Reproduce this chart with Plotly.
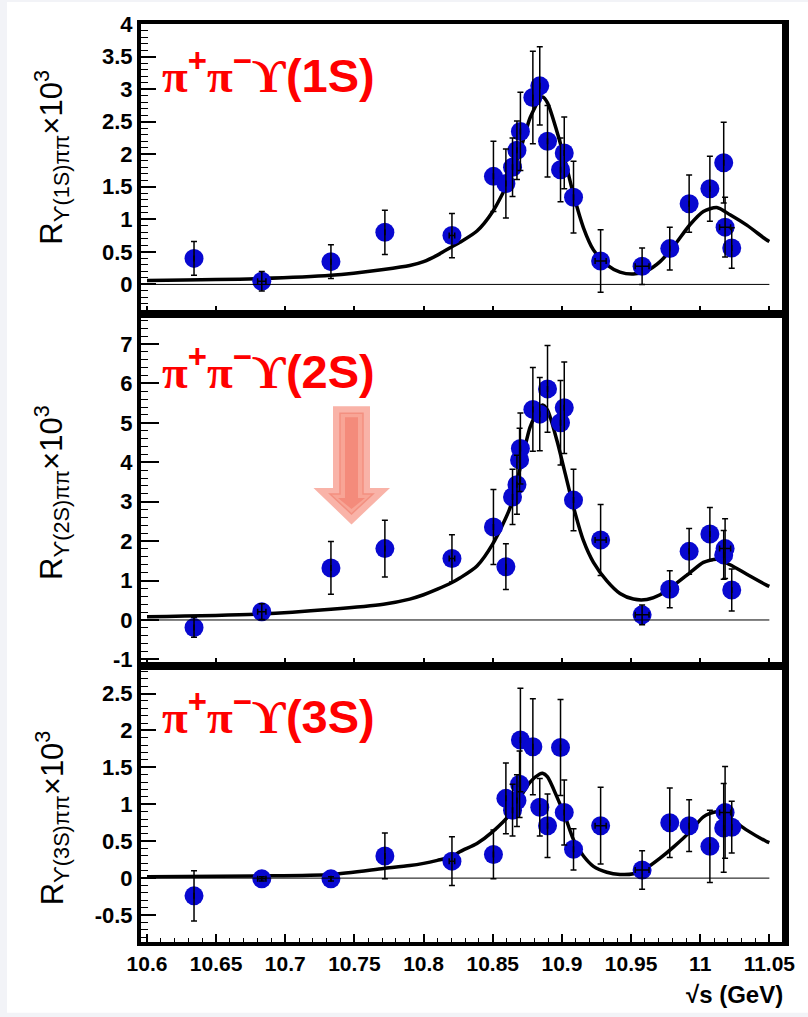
import plotly.graph_objects as go
from plotly.subplots import make_subplots

# ---------------- data ----------------
energies = [10.634, 10.683, 10.733, 10.772, 10.8205, 10.8505, 10.8595, 10.8643, 10.8675,
            10.8694, 10.870, 10.879, 10.884, 10.8896, 10.899, 10.9017, 10.9084, 10.928,
            10.958, 10.978, 10.992, 11.007, 11.017, 11.018, 11.0228]
energy_err = [0, 0.003, 0, 0, 0.002, 0, 0, 0, 0, 0, 0, 0, 0, 0, 0, 0, 0, 0.004,
              0.005, 0, 0, 0, 0, 0.004, 0]

r1s = [0.40, 0.05, 0.35, 0.80, 0.75, 1.66, 1.55, 1.80, 2.06, None, 2.35, 2.87, 3.05, 2.20,
       1.76, 2.02, 1.34, 0.36, 0.28, 0.55, 1.24, 1.47, 1.87, 0.88, 0.56]
r1s_err = [0.26, 0.15, 0.26, 0.34, 0.34, 0.54, 0.53, 0.45, 0.45, None, 0.60, 0.71, 0.60, 0.55,
           0.49, 0.55, 0.55, 0.48, 0.28, 0.33, 0.44, 0.50, 0.62, 0.46, 0.31]

r2s = [-0.19, 0.21, 1.32, 1.81, 1.56, 2.36, 1.35, 3.12, 3.43, 4.06, 4.35, 5.34, 5.22, 5.86,
       5.00, 5.38, 3.04, 2.03, 0.13, 0.78, 1.74, 2.18, 1.65, 1.81, 0.76]
r2s_err = [0.25, 0.20, 0.67, 0.72, 0.60, 0.95, 0.58, 0.70, 0.75, 0.80, 0.90, 1.06, 0.93, 1.10,
           1.07, 1.16, 0.78, 0.90, 0.25, 0.47, 0.58, 0.67, 0.62, 0.76, 0.53]

r3s = [-0.24, -0.01, -0.01, 0.30, 0.23, 0.32, 1.08, 0.92, 1.05, 1.27, 1.87, 1.78, 0.96, 0.71,
       1.77, 0.89, 0.39, 0.71, 0.11, 0.75, 0.71, 0.43, 0.68, 0.89, 0.69]
r3s_err = [0.34, 0.03, 0.03, 0.31, 0.33, 0.33, 0.48, 0.35, 0.35, 0.45, 0.70, 0.65, 0.39, 0.43,
           0.65, 0.44, 0.28, 0.52, 0.26, 0.47, 0.35, 0.49, 0.60, 0.62, 0.35]

fit_energies = [10.600, 10.682, 10.733, 10.771, 10.790, 10.800, 10.810, 10.8205, 10.8265,
                10.8386, 10.850, 10.8627, 10.870, 10.877, 10.884, 10.886, 10.8896, 10.8964,
                10.9024, 10.9084, 10.9156, 10.9228, 10.9325, 10.942, 10.9517, 10.9614, 10.971,
                10.9806, 10.9927, 11.0023, 11.012, 11.0216, 11.0337, 11.0476, 11.050]
fit1 = [0.06, 0.09, 0.14, 0.23, 0.29, 0.35, 0.45, 0.58, 0.65, 0.82, 1.12, 1.64, 2.07, 2.56,
        2.85, 2.88, 2.79, 2.35, 1.89, 1.38, 0.87, 0.53, 0.30, 0.19, 0.16, 0.21, 0.35, 0.58,
        0.92, 1.12, 1.18, 1.07, 0.91, 0.69, 0.66]
fit2 = [0.08, 0.15, 0.27, 0.40, 0.53, 0.64, 0.78, 0.95, 1.07, 1.37, 1.93, 2.86, 3.88, 4.89,
        5.40, 5.45, 5.32, 4.55, 3.71, 2.86, 2.01, 1.46, 0.99, 0.67, 0.53, 0.52, 0.64, 0.87,
        1.20, 1.46, 1.54, 1.40, 1.16, 0.89, 0.85]
fit3 = [0.02, 0.03, 0.05, 0.13, 0.17, 0.20, 0.24, 0.29, 0.36, 0.47, 0.63, 0.87, 1.10, 1.30,
        1.41, 1.42, 1.37, 1.10, 0.83, 0.52, 0.30, 0.16, 0.08, 0.05, 0.06, 0.14, 0.27, 0.42,
        0.63, 0.83, 0.90, 0.81, 0.65, 0.50, 0.48]

x_tickvals = [10.6, 10.65, 10.7, 10.75, 10.8, 10.85, 10.9, 10.95, 11.0, 11.05]
x_ticktext = ["10.6", "10.65", "10.7", "10.75", "10.8", "10.85", "10.9", "10.95", "11", "11.05"]
y1_tickvals = [0, 0.5, 1, 1.5, 2, 2.5, 3, 3.5, 4]
y1_ticktext = ["0", "0.5", "1", "1.5", "2", "2.5", "3", "3.5", "4"]
y2_tickvals = [-1, 0, 1, 2, 3, 4, 5, 6, 7]
y2_ticktext = ["-1", "0", "1", "2", "3", "4", "5", "6", "7"]
y3_tickvals = [-0.5, 0, 0.5, 1, 1.5, 2, 2.5]
y3_ticktext = ["-0.5", "0", "0.5", "1", "1.5", "2", "2.5"]

channel_labels = ["1S", "2S", "3S"]

# ---------------- figure ----------------
W, H = 808, 1017
ML, MR, MT, MB = 141, 23, 22, 75
PW, PH = W - ML - MR, H - MT - MB


def paper(px, py):
    return (px - ML) / PW, (H - MB - py) / PH


fig = make_subplots(rows=3, cols=1, shared_xaxes=True, vertical_spacing=0)

panels = [
    (r1s, r1s_err, fit1),
    (r2s, r2s_err, fit2),
    (r3s, r3s_err, fit3),
]
for i, (vals, errs, fit) in enumerate(panels, start=1):
    fig.add_trace(go.Scatter(x=fit_energies, y=fit, mode="lines",
                             line=dict(color="black", width=3.5, shape="spline", smoothing=0.7),
                             showlegend=False, hoverinfo="skip"), row=i, col=1)
    fig.add_trace(go.Scatter(x=energies, y=vals, mode="markers",
                             marker=dict(color="#0808d0", size=19, line=dict(width=0)),
                             showlegend=False), row=i, col=1)
    fig.add_trace(go.Scatter(x=energies, y=vals, mode="markers",
                             marker=dict(color="rgba(0,0,0,0)", size=2),
                             error_y=dict(type="data", array=errs, visible=True,
                                          color="black", thickness=1.5, width=3),
                             error_x=dict(type="data", array=energy_err, visible=True,
                                          color="black", thickness=1.5, width=3),
                             showlegend=False, hoverinfo="skip"), row=i, col=1)

# domains
b1 = (H - MB - 313) / PH
b2 = (H - MB - 665) / PH
domains = {1: [b1, 1.0], 2: [b2, b1], 3: [0.0, b2]}
yranges = {1: [-0.46, 4.0], 2: [-1.157, 7.75], 3: [-0.865, 2.878]}
ytv = {1: (y1_tickvals, y1_ticktext, 0.1, 15),
       2: (y2_tickvals, y2_ticktext, 0.2, 18),
       3: (y3_tickvals, y3_ticktext, 0.1, 15)}

tickfont = dict(family="Liberation Sans", size=22, color="black", weight="bold")
xrange = [10.6 - 6 / 1383.0, 10.6 + (785 - 147) / 1383.0]

for i in (1, 2, 3):
    tv, tt, mdt, tl = ytv[i]
    fig.update_yaxes(row=i, col=1, domain=domains[i], range=yranges[i],
                     tickvals=tv, ticktext=tt, ticks="inside", ticklen=tl, tickwidth=1.5,
                     tickcolor="black",
                     minor=dict(ticks="inside", dtick=mdt, tick0=0, ticklen=7, tickwidth=1,
                                tickcolor="black", showgrid=False),
                     showline=True, linewidth=4, linecolor="black", mirror=True,
                     showgrid=False, zeroline=False, tickfont=tickfont)
    fig.update_xaxes(row=i, col=1, range=xrange, tickvals=x_tickvals, ticktext=x_ticktext,
                     ticks="inside", ticklen=8, tickwidth=1.5, tickcolor="black",
                     minor=dict(ticks="inside", dtick=0.01, tick0=10.6, ticklen=4,
                                tickwidth=1, tickcolor="black", showgrid=False),
                     showline=True, linewidth=4, linecolor="black", mirror=True,
                     showgrid=False, zeroline=False,
                     showticklabels=(i == 3),
                     tickfont=dict(family="Liberation Sans", size=21, color="black",
                                   weight="bold"))

shapes = []
# page background (white page with light grey strips at left and bottom)
x0p, _ = paper(7, 0)
x1p, _ = paper(W, 0)
_, y0p = paper(0, 1013)
_, y1p = paper(0, 0)
shapes.append(dict(type="rect", xref="paper", yref="paper", x0=x0p, x1=x1p, y0=y0p, y1=y1p,
                   fillcolor="white", line=dict(width=0), layer="below"))
# zero lines
for i, yr in ((1, "y"), (2, "y2"), (3, "y3")):
    shapes.append(dict(type="line", xref="x" if i == 1 else f"x{i}", yref=yr,
                       x0=10.6, x1=11.05, y0=0, y1=0, line=dict(color="black", width=1)))
# thicker right border
shapes.append(dict(type="line", xref="paper", yref="paper", x0=1, x1=1, y0=0, y1=1,
                   line=dict(color="black", width=6)))


def arrow_path(pts):
    s = ""
    for k, (px, py) in enumerate(pts):
        xp, yp = paper(px, py)
        s += ("M" if k == 0 else "L") + f"{xp:.5f},{yp:.5f} "
    return s + "Z"


outer = [(333, 405), (370, 405), (370, 487), (390, 487), (351.5, 523.5), (313.5, 487), (333, 487)]
middle = [(340, 412), (363, 412), (363, 493), (373, 493), (351.5, 513), (330, 493), (340, 493)]
inner = [(345, 416), (358, 416), (358, 497), (365, 497), (351.5, 508), (338, 497), (345, 497)]
shapes.append(dict(type="path", xref="paper", yref="paper", path=arrow_path(outer),
                   fillcolor="#f9b3a8", line=dict(width=0)))
shapes.append(dict(type="path", xref="paper", yref="paper", path=arrow_path(middle),
                   fillcolor="#f8a596", line=dict(color="#f39080", width=1.5)))
shapes.append(dict(type="path", xref="paper", yref="paper", path=arrow_path(inner),
                   fillcolor="#f48b7b", line=dict(width=0)))

annotations = []
serif = "font-family:Liberation Serif"
label_y = {1: 70, 2: 367, 3: 712}
for i, lab in enumerate(channel_labels, start=1):
    xp, yp = paper(160, label_y[i])
    txt = (f'<span style="{serif}">π</span><sup>+</sup><span style="{serif}">π</span>'
           f'<sup>−</sup><span style="{serif}">ϒ</span>({lab})')
    annotations.append(dict(xref="paper", yref="paper", x=xp, y=yp, xanchor="left",
                            yanchor="middle", showarrow=False, text=txt,
                            font=dict(family="Liberation Sans", size=47, color="#ff0000",
                                      weight="bold")))
title_y = {1: 156, 2: 492, 3: 818}
for i, lab in enumerate(channel_labels, start=1):
    xp, yp = paper(52, title_y[i])
    annotations.append(dict(xref="paper", yref="paper", x=xp, y=yp, xanchor="center",
                            yanchor="middle", showarrow=False, textangle=-90,
                            text=f"R<sub>ϒ({lab})ππ</sub>×10<sup>3</sup>",
                            font=dict(family="Liberation Sans", size=31, color="black")))
xp, yp = paper(785, 995)
annotations.append(dict(xref="paper", yref="paper", x=xp, y=yp, xanchor="right",
                        yanchor="middle", showarrow=False, text="√s (GeV)",
                        font=dict(family="Liberation Sans", size=24, color="black",
                                  weight="bold")))

fig.update_layout(width=W, height=H, margin=dict(l=ML, r=MR, t=MT, b=MB),
                  paper_bgcolor="#f2f3f7", plot_bgcolor="white",
                  shapes=shapes, annotations=annotations, showlegend=False)

fig.write_html("out.html")
